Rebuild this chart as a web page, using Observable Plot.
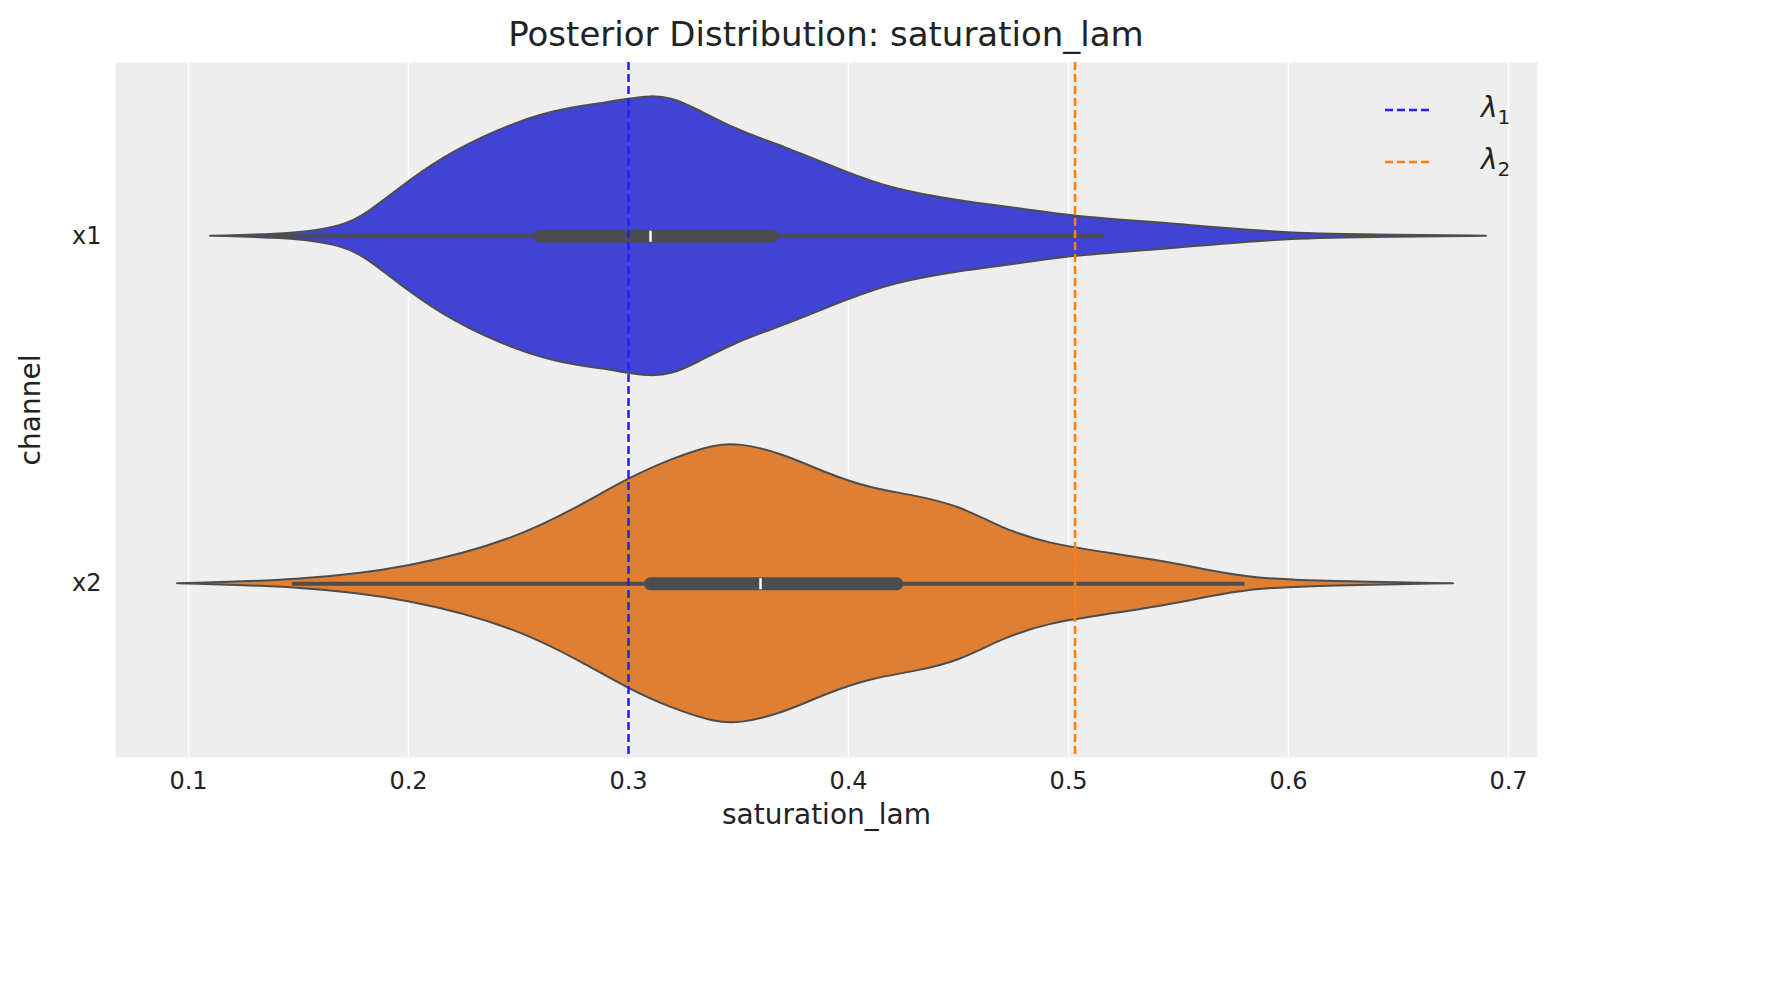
<!DOCTYPE html>
<html><head><meta charset="utf-8">
<script src="https://cdn.jsdelivr.net/npm/d3@7"></script>
<script src="https://cdn.jsdelivr.net/npm/@observablehq/plot@0.6"></script>
<style>
body{margin:0;background:#fff;font-family:"DejaVu Sans",sans-serif;}
#wrap{position:relative;width:1782px;height:983px;}
#title{position:absolute;top:14px;left:115px;width:1422px;text-align:center;font-size:34px;color:#222;}
#legend{position:absolute;left:1385px;top:84px;font-size:28px;color:#222;}
.row{display:flex;align-items:center;height:52px;}
.row svg{margin-right:52px;}
</style></head><body>
<div id="wrap"><div id="title">Posterior Distribution: saturation_lam</div>
<div id="legend"></div></div>
<script>
const channels = ["x1","x2"];
const colors = ["#4143d6","#e07f32"];
const refColors = ["#2222ee","#ff7f0e"];
const refValues = [0.3, 0.503];
const xTicks = [0.1,0.2,0.3,0.4,0.5,0.6,0.7];
// violin profiles: x value, half width (relative)
const x1X = [0.11,0.15,0.17,0.18,0.2,0.22,0.25,0.27,0.29,0.3,0.31,0.32,0.33,0.35,0.37,0.4,0.42,0.45,0.48,0.5,0.55,0.6,0.65,0.69];
const x1W = [0,2,10,20,55,85,115,127,133,137,140,138,128,105,90,63,47,35,27,20,12,2,1,0];
const x2X = [0.095,0.15,0.2,0.25,0.28,0.3,0.32,0.34,0.35,0.37,0.39,0.41,0.43,0.45,0.47,0.49,0.52,0.55,0.58,0.62,0.675];
const x2W = [0,3,15,45,80,105,125,139,140,130,110,95,88,78,55,40,30,20,5,2,0];
// box stats: whisker lo, q1, median, q3, whisker hi
const boxStats = [[0.135,0.26,0.31,0.365,0.516],[0.147,0.31,0.36,0.422,0.58]];

const scaleW = 1/347;
const violins = [x1X.map((x,i)=>({x,w:x1W[i]*scaleW,c:1})), x2X.map((x,i)=>({x,w:x2W[i]*scaleW,c:2}))];
const boxes = boxStats.map((b,i)=>({lo:b[0],q1:b[1],med:b[2],q3:b[3],hi:b[4],c:i+1}));

const marks = [Plot.gridX(xTicks,{stroke:"#fff",strokeOpacity:1,strokeWidth:1.5})];
violins.forEach((v,i)=>{
  marks.push(Plot.area(v,{x1:"x",x2:"x",y1:d=>d.c-d.w,y2:d=>d.c+d.w,fill:colors[i],stroke:"#4d4d4d",strokeWidth:2,curve:"basis"}));
});
marks.push(Plot.link(boxes,{x1:"lo",x2:"hi",y1:"c",y2:"c",stroke:"#4d4d4d",strokeWidth:4}));
marks.push(Plot.link(boxes,{x1:"q1",x2:"q3",y1:"c",y2:"c",stroke:"#4d4d4d",strokeWidth:13,strokeLinecap:"round"}));
marks.push(Plot.link(boxes,{x1:"med",x2:"med",y1:d=>d.c-0.016,y2:d=>d.c+0.016,stroke:"#fff",strokeWidth:2.5}));
refValues.forEach((r,i)=>marks.push(Plot.ruleX([r],{stroke:refColors[i],strokeWidth:2.5,strokeDasharray:"8,4"})));
marks.push(Plot.axisX(xTicks,{tickFormat:d3.format(".1f"),tickSize:0,tickPadding:14,fontSize:24,label:"saturation_lam",labelAnchor:"center",labelOffset:66,labelArrow:"none"}));
marks.push(Plot.axisY([1,2],{tickFormat:d=>channels[d-1],tickSize:0,tickPadding:14,fontSize:24,label:"channel",labelAnchor:"center",labelOffset:95,labelArrow:"none"}));

const chart = Plot.plot({
  width:1782,height:983,marginLeft:115,marginRight:245,marginTop:62,marginBottom:226,
  style:{fontFamily:"DejaVu Sans",color:"#222",background:"transparent"},
  x:{domain:[0.0668,0.7132]},
  y:{domain:[2.5,0.5]},
  marks:[Plot.frame({fill:"#eeeeee",stroke:"none"}),...marks]
});
chart.style.position="absolute";chart.style.left="0";chart.style.top="0";
chart.querySelectorAll("[aria-label='x-axis label'] text, [aria-label='y-axis label'] text, [aria-label='x-axis label'], [aria-label='y-axis label']").forEach(t=>t.setAttribute("font-size","28"));
const wrap=document.getElementById("wrap");
wrap.insertBefore(chart,wrap.firstChild);
const leg=document.getElementById("legend");
const labels=["λ<sub style='font-style:normal;font-size:20px'>1</sub>","λ<sub style='font-style:normal;font-size:20px'>2</sub>"];
refColors.forEach((c,i)=>{
  leg.insertAdjacentHTML("beforeend",`<div class="row"><svg width="44" height="6"><line x1="0" y1="3" x2="44" y2="3" stroke="${c}" stroke-width="2.5" stroke-dasharray="8,4"/></svg><i style="font-family:'DejaVu Sans'">${labels[i]}</i></div>`);
});
</script></body></html>
